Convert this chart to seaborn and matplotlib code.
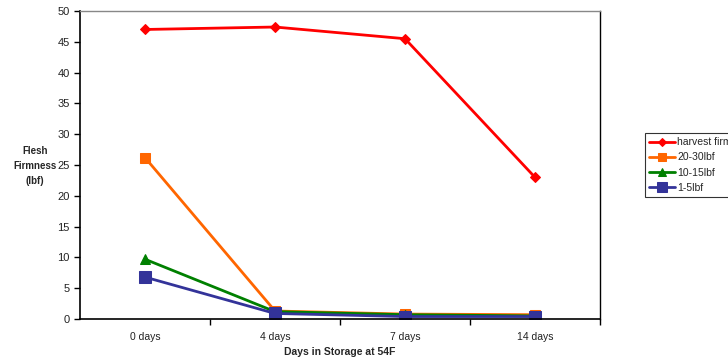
import matplotlib
matplotlib.use("Agg")
import matplotlib.pyplot as plt
import seaborn as sns
import pandas as pd
from matplotlib.ticker import FixedLocator

days = ["0 days", "4 days", "7 days", "14 days"]
harvest_firm = [47.0, 47.4, 45.5, 23.0]
lbf_20_30 = [26.2, 1.3, 0.8, 0.7]
lbf_10_15 = [9.7, 1.2, 0.7, 0.5]
lbf_1_5 = [6.8, 0.9, 0.4, 0.4]
series_names = ["harvest firm", "20-30lbf", "10-15lbf", "1-5lbf"]
colors = ["#FF0000", "#FF6600", "#008000", "#333399"]
markers = ["D", "s", "^", "s"]
msizes = [5, 7, 7, 9]

sns.set_style("white")
plt.rcParams['font.family'] = ['Liberation Sans', 'DejaVu Sans']

rows = []
for name, vals in zip(series_names, [harvest_firm, lbf_20_30, lbf_10_15, lbf_1_5]):
    for d, v in zip(days, vals):
        rows.append({"day": d, "value": v, "series": name})
df = pd.DataFrame(rows)

fig = plt.figure(figsize=(7.28, 3.62), dpi=100)
ax = fig.add_axes([80/728, 1-319/362, (600-80)/728, (319-11)/362])

for name, c, m, ms in zip(series_names, colors, markers, msizes):
    sub = df[df["series"] == name]
    sns.lineplot(data=sub, x="day", y="value", ax=ax, color=c, marker=m,
                 markersize=ms, markeredgecolor=c, linewidth=2, sort=False,
                 label=name)

ax.set_xlim(-0.5, 3.5)
ax.set_ylim(0, 50)
ax.set_yticks(range(0, 51, 5))
ax.set_xticks(range(4))
ax.set_xticklabels(days)
ax.xaxis.set_minor_locator(FixedLocator([0.5, 1.5, 2.5, 3.5]))
ax.tick_params(axis="x", which="major", length=0, labelsize=7.5, pad=9, colors="#222222")
ax.tick_params(axis="x", which="minor", length=4, width=1, color="black", direction="out", bottom=True)
ax.tick_params(axis="y", which="major", length=4, width=1, labelsize=8, direction="out", left=True, color="black")
for lab in ax.get_yticklabels():
    lab.set_color("#222222")

for s in ["left", "bottom"]:
    ax.spines[s].set_color("black")
    ax.spines[s].set_linewidth(1.2)
ax.spines["top"].set_color("#888888")
ax.spines["right"].set_color("black")
ax.spines["top"].set_linewidth(1)
ax.spines["right"].set_linewidth(1)

ax.set_xlabel("Days in Storage at 54F", fontsize=7.5, fontweight="bold", labelpad=4)
ax.set_ylabel("")
fig.text(35/728, 1-166/362, "Flesh\nFirmness\n(lbf)", fontsize=7, fontweight="bold",
         ha="center", va="center", linespacing=1.6)

ax.get_legend().remove()
handles, labels = ax.get_legend_handles_labels()
leg = fig.legend(handles, labels, loc="upper left", bbox_to_anchor=(645/728, 1-133/362),
                 bbox_transform=fig.transFigure, fontsize=7.5, frameon=True, fancybox=False,
                 edgecolor="black", handlelength=2.5, handletextpad=0.2, borderpad=0.4,
                 labelspacing=0.5, borderaxespad=0, markerscale=0.8)
leg.get_frame().set_linewidth(0.8)

fig.savefig("out.png", dpi=100)
